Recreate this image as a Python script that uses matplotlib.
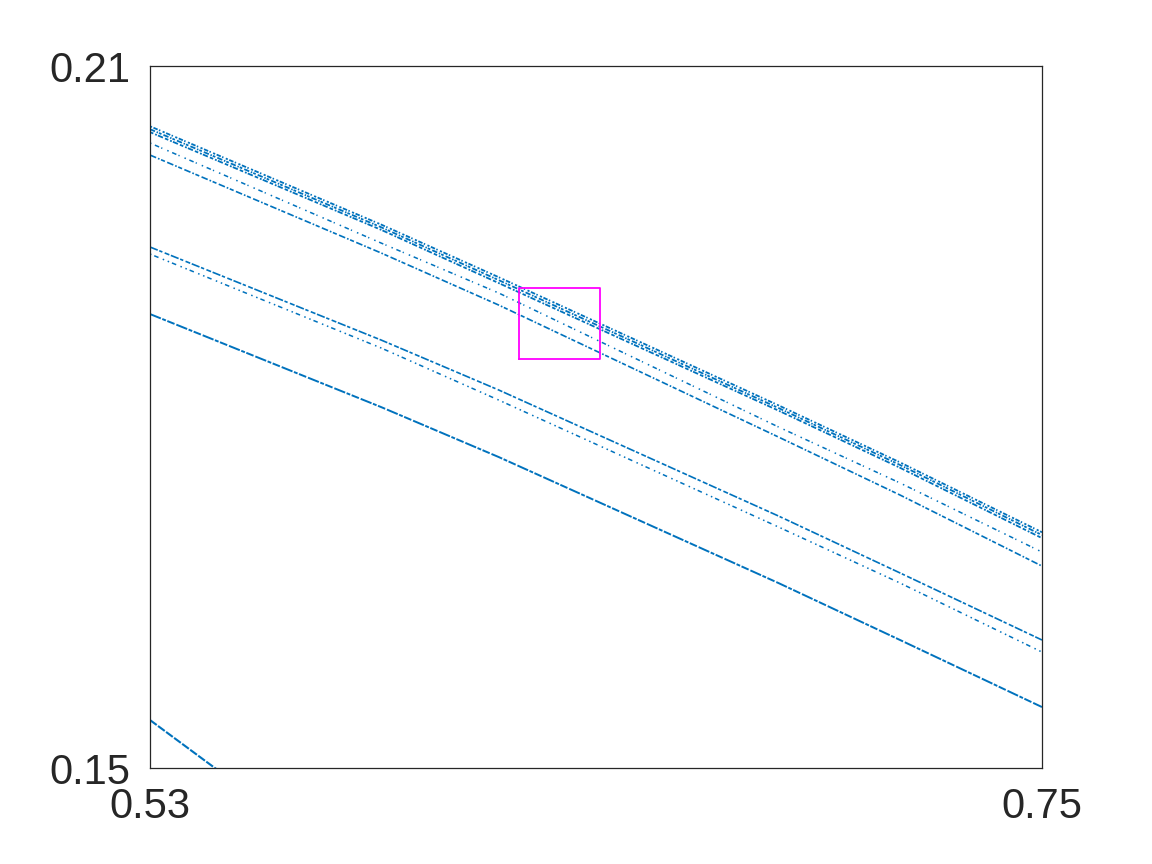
import numpy as np
import matplotlib
matplotlib.use('Agg')
import matplotlib.pyplot as plt

plt.rcParams['font.family'] = ['Liberation Sans', 'DejaVu Sans']

xk = [0.53, 0.587, 0.616, 0.685, 0.715, 0.75]

# upper group (thick band is a few close strands)
band_top = [0.20485, 0.19645, 0.19195, 0.18100, 0.17612, 0.17015]
band_mid = [0.20460, 0.19622, 0.19170, 0.18077, 0.17590, 0.16991]
band_bot = [0.20435, 0.19600, 0.19145, 0.18055, 0.17566, 0.16965]
strand_b = [0.20342, 0.19487, 0.19060, 0.17915, 0.17436, 0.16846]
strand_c = [0.20239, 0.19402, 0.18957, 0.17829, 0.17333, 0.16726]
# middle pair
strand_d = [0.19453, 0.18658, 0.18231, 0.17154, 0.16667, 0.16094]
strand_e = [0.19393, 0.18590, 0.18145, 0.17060, 0.16581, 0.15991]
# lower single strand
strand_f = [0.18880, 0.18085, 0.17658, 0.16581, 0.16094, 0.15521]
# corner piece, bottom left
corner_x = [0.53, 0.546, 0.549]
corner_y = [0.1541, 0.1500, 0.1493]

# zoom box
box_x = [0.621, 0.641]
box_y = [0.185, 0.191]

blue = '#0072BD'
fig = plt.figure(figsize=(11.52, 8.64), dpi=100)
ax = fig.add_axes([0.1302, 0.1111, 0.7743, 0.8125])

ax.plot(xk, band_top, color=blue, lw=1.3, ls=(0, (1.2, 0.9, 2.5, 0.8, 0.8, 1.4)))
ax.plot(xk, band_mid, color=blue, lw=1.3, ls=(0, (3.0, 1.0, 0.8, 0.6, 1.5, 1.2)))
ax.plot(xk, band_bot, color=blue, lw=1.3, ls=(0, (2.0, 1.1, 1.0, 0.7, 3.0, 1.2)))
ax.plot(xk, strand_b, color=blue, lw=1.1, ls=(0, (1.0, 2.5, 3.0, 1.5, 0.8, 3.5)))
ax.plot(xk, strand_c, color=blue, lw=1.2, ls=(0, (4.0, 1.2, 1.0, 1.0, 2.5, 1.5)))
ax.plot(xk, strand_d, color=blue, lw=1.2, ls=(0, (5.0, 1.0, 2.0, 1.5, 3.0, 1.0)))
ax.plot(xk, strand_e, color=blue, lw=1.1, ls=(0, (1.0, 2.0, 3.0, 3.0, 1.0, 2.5)))
ax.plot(xk, strand_f, color=blue, lw=1.4, ls=(0, (6.0, 0.8, 2.0, 0.8, 4.0, 1.0)))
ax.plot(corner_x, corner_y, color=blue, lw=1.5, ls=(0, (4.0, 0.8)))

ax.plot([box_x[0], box_x[1], box_x[1], box_x[0], box_x[0]],
        [box_y[0], box_y[0], box_y[1], box_y[1], box_y[0]],
        color='#FF00FF', lw=1.3)

ax.set_xlim(0.53, 0.75)
ax.set_ylim(0.15, 0.21)
ax.set_xticks([0.53, 0.75])
ax.set_yticks([0.15, 0.21])
ax.set_xticklabels(['0.53', '0.75'])
ax.set_yticklabels(['0.15', '0.21'])
ax.tick_params(direction='in', length=0, labelsize=30, colors='#262626', pad=14)
for s in ax.spines.values():
    s.set_color('#262626')
    s.set_linewidth(0.9)

fig.savefig('out.png', dpi=100)
